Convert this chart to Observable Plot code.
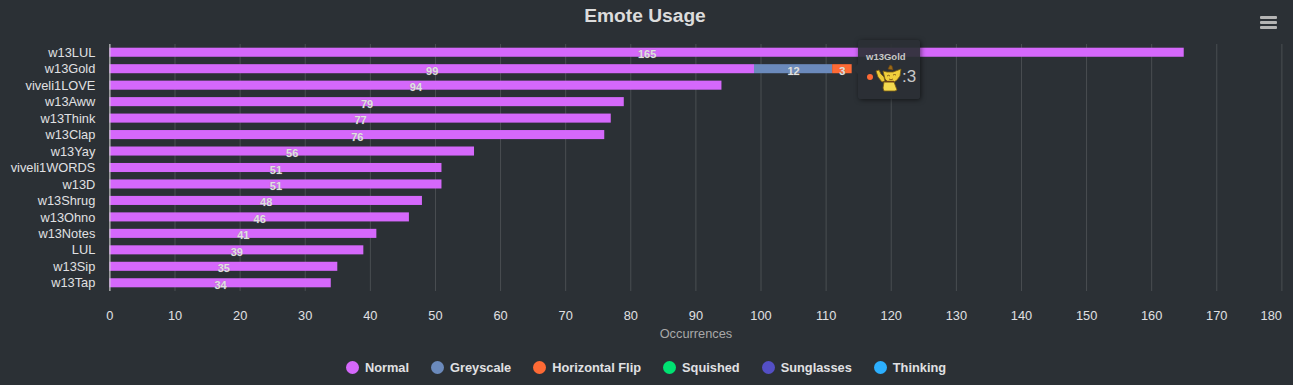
<!DOCTYPE html>
<html><head><meta charset="utf-8">
<script src="https://cdn.jsdelivr.net/npm/d3@7"></script>
<script src="https://cdn.jsdelivr.net/npm/@observablehq/plot@0.6"></script>
<style>
html,body{margin:0;padding:0;background:#2b3035;width:1293px;height:385px;overflow:hidden;font-family:"Liberation Sans",Arial,sans-serif;position:relative}
#title{height:36px;line-height:32px;text-align:center;font-size:19.2px;font-weight:bold;color:#dcdcdc;padding-right:3px;box-sizing:border-box}
#chart svg{display:block}
#legend{display:flex;justify-content:center;align-items:center;gap:22px;height:35px;font-size:12.8px;font-weight:bold;color:#e0e0e3;padding-right:1px;box-sizing:border-box}
#legend span.i{display:flex;align-items:center;gap:6px}
#legend i{display:block;width:13px;height:13px;border-radius:50%}
#menu{position:absolute;left:1260px;top:16px;width:17px}
#menu b{display:block;height:3px;background:#b4b4b4;margin-bottom:2px;border-radius:1px}
#tip{position:absolute;left:858px;top:40px;width:62px;height:59px;background:rgba(43,48,53,.92);border-radius:3px;box-shadow:1px 1px 5px rgba(0,0,0,.55);color:#c8c8c8}
#tip:before{content:"";position:absolute;left:-5px;top:24px;border-style:solid;border-width:5px 5px 5px 0;border-color:transparent #2b3035 transparent transparent}
#tip .t{position:absolute;left:8px;top:11px;font-size:9.5px;font-weight:bold;line-height:11px}
#tip .d{position:absolute;left:9px;top:34px;width:6px;height:6px;border-radius:50%;background:#fe6a35}
#tip .v{position:absolute;left:44px;top:27px;font-size:17px;line-height:20px}
#tip svg{position:absolute;left:16px;top:23px}
</style></head>
<body>
<div id="title">Emote Usage</div>
<div id="chart"></div>
<div id="legend"></div>
<div id="menu"><b></b><b></b><b></b></div>
<div id="tip"><div class="t">w13Gold</div><div class="d"></div>
<svg width="30" height="30" viewBox="0 0 30 30">
<path d="M14 6l2-4 2 1 1 4z" fill="#9a6a18" stroke="#6d4510" stroke-width=".6"/>
<path d="M2 8l3-1 2 4 3 3 1 4-3 1-4-5z" fill="#eccb3a" stroke="#7a5a10" stroke-width=".8"/>
<path d="M9 8l4 1h6l8-3-1 7-3 4-3 2h-6l-3-3z" fill="#f0cf3c" stroke="#7a5a10" stroke-width=".8"/>
<path d="M10 19h10l3 8-2 1h-11l-1-3z" fill="#f3d94f" stroke="#7a5a10" stroke-width=".8"/>
<path d="M11 18.5h9" stroke="#6b3f16" stroke-width="1.4"/>
<path d="M13 13q1.5-1.5 3 0M19 12q1.5-1 3 0M15 16q2 1.5 4 0" fill="none" stroke="#6d4510" stroke-width=".8"/>
</svg><div class="v">:3</div></div>
<script>
const emotes = ["w13LUL","w13Gold","viveli1LOVE","w13Aww","w13Think","w13Clap","w13Yay","viveli1WORDS","w13D","w13Shrug","w13Ohno","w13Notes","LUL","w13Sip","w13Tap"];
const normal = [165,99,94,79,77,76,56,51,51,48,46,41,39,35,34];
const greyscale = [0,12,0,0,0,0,0,0,0,0,0,0,0,0,0];
const horizontalFlip = [0,3,0,0,0,0,0,0,0,0,0,0,0,0,0];
const seriesNames = ["Normal","Greyscale","Horizontal Flip","Squished","Sunglasses","Thinking"];
const seriesColors = ["#d568fb","#6b8abc","#fe6a35","#00e272","#544fc5","#2caffe"];
const xTicks = d3.range(0,181,10);

const rows = [];
[normal,greyscale,horizontalFlip].forEach((vals,s)=>vals.forEach((v,i)=>{ if(v>0) rows.push({emote:emotes[i],series:seriesNames[s],value:v}); }));

const textColor="#e0e0e3";
const plot = Plot.plot({
  width:1293,height:314,
  marginLeft:109.4,marginRight:11.6,marginTop:8,marginBottom:59,
  style:{background:"transparent",fontFamily:"'Liberation Sans',Arial,sans-serif",fontSize:"12.8px",color:textColor},
  x:{domain:[0,180],label:null},
  y:{domain:emotes,paddingInner:0.45,paddingOuter:0.225,round:false,label:null},
  color:{domain:seriesNames,range:seriesColors},
  marks:[
    Plot.gridX(xTicks,{stroke:"#e0e0e3",strokeOpacity:0.17,strokeWidth:1}),
    Plot.barX(rows,Plot.stackX({x:"value",y:"emote",fill:"series",z:"series"})),
    Plot.ruleX([0],{stroke:"#d8d8d8",strokeWidth:1}),
    Plot.axisY({tickSize:0,tickPadding:14.6,label:null,color:textColor}),
    Plot.axisX({ticks:xTicks.slice(0,-1),tickSize:0,tickPadding:19,label:null,color:textColor}),
    Plot.axisX({ticks:[180],tickSize:0,tickPadding:19,label:null,textAnchor:"end",color:textColor}),
    Plot.axisX({ticks:[],label:"Occurrences",labelAnchor:"center",labelArrow:"none",labelOffset:46,color:"#a8a8a8"}),
    Plot.text(rows,Plot.stackX({x:"value",y:"emote",z:"series",text:"value",dy:2,fill:"#e0e0e0",fontSize:11,fontWeight:"bold",stroke:"#8a8a8a",strokeWidth:0.6,strokeOpacity:.5,paintOrder:"stroke"}))
  ]
});
document.getElementById("chart").appendChild(plot);
const lg=document.getElementById("legend");
seriesNames.forEach((n,i)=>{const s=document.createElement("span");s.className="i";const c=document.createElement("i");c.style.background=seriesColors[i];s.appendChild(c);s.appendChild(document.createTextNode(n));lg.appendChild(s);});
</script>
</body></html>
